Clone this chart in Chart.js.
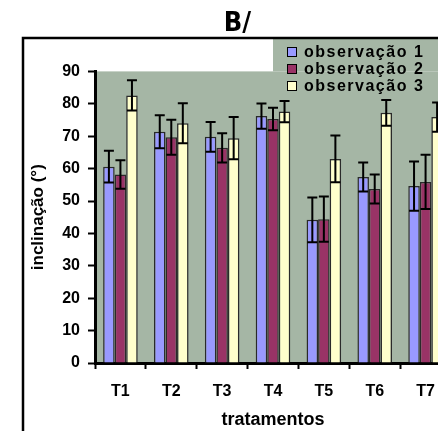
<!DOCTYPE html>
<html>
<head>
<meta charset="utf-8">
<script src="https://cdn.jsdelivr.net/npm/chart.js@4"></script>
<style>
  html, body { margin: 0; padding: 0; background: #fff; overflow: hidden; }
  #wrap { width: 460px; height: 431px; }
</style>
</head>
<body>
<div id="wrap"><canvas id="grafB" width="460" height="431"></canvas></div>
<script>
// tratamentos e medias de inclinacao (graus) por observacao
var tratamentos = ['T1', 'T2', 'T3', 'T4', 'T5', 'T6', 'T7'];
var obs1 = [60.6, 71.4, 69.8, 76.2, 44.2, 57.4, 54.6];
var obs2 = [58.2, 69.7, 66.4, 75.3, 44.4, 53.7, 55.9];
var obs3 = [82.6, 74.0, 69.4, 77.6, 63.0, 77.2, 75.9];
// desvios (barras de erro)
var err1 = [4.9, 5.1, 4.6, 3.9, 6.9, 4.5, 7.6];
var err2 = [4.4, 5.4, 4.5, 3.5, 7.0, 4.5, 8.4];
var err3 = [4.7, 6.2, 6.5, 3.3, 7.2, 4.0, 4.5];
var yTicks = [0, 10, 20, 30, 40, 50, 60, 70, 80, 90];

var fundo = '#a5b6a5';
var fonte = '"Liberation Sans", Arial, sans-serif';

// fundo, moldura e legenda desenhados a mao
var moldura = {
  id: 'moldura',
  beforeDraw: function (chart) {
    var ctx = chart.ctx, a = chart.chartArea;
    ctx.save();
    ctx.fillStyle = '#fff';
    ctx.fillRect(0, 0, chart.width, chart.height);
    ctx.fillStyle = fundo;
    ctx.fillRect(a.left, a.top, chart.width - a.left, a.bottom - a.top);
    ctx.fillRect(273, 39, chart.width - 273, a.top - 39);
    ctx.strokeStyle = '#000';
    ctx.lineWidth = 2.5;
    ctx.beginPath();
    ctx.moveTo(23, chart.height);
    ctx.lineTo(23, 38);
    ctx.lineTo(chart.width, 38);
    ctx.stroke();
    ctx.restore();
  },
  afterDraw: function (chart) {
    var ctx = chart.ctx;
    ctx.save();
    ctx.font = 'bold 16px ' + fonte;
    ctx.letterSpacing = '1.5px';
    ctx.textBaseline = 'alphabetic';
    chart.data.datasets.forEach(function (ds, i) {
      var base = 57 + i * 17;
      ctx.fillStyle = ds.backgroundColor;
      ctx.fillRect(287, base - 10, 10, 10);
      ctx.strokeStyle = '#000';
      ctx.lineWidth = 1;
      ctx.strokeRect(287.5, base - 9.5, 9, 9);
      ctx.fillStyle = '#000';
      ctx.fillText(ds.label, 304, base);
    });
    ctx.restore();
  }
};

var barrasErro = {
  id: 'barrasErro',
  afterDatasetsDraw: function (chart) {
    var ctx = chart.ctx, y = chart.scales.y;
    var erros = [err1, err2, err3];
    ctx.save();
    ctx.strokeStyle = '#000';
    ctx.lineWidth = 2;
    chart.data.datasets.forEach(function (ds, i) {
      var meta = chart.getDatasetMeta(i);
      meta.data.forEach(function (bar, j) {
        var v = ds.data[j], e = erros[i][j];
        var yt = y.getPixelForValue(v + e), yb = y.getPixelForValue(v - e);
        ctx.beginPath();
        ctx.moveTo(bar.x, yt); ctx.lineTo(bar.x, yb);
        ctx.moveTo(bar.x - 5, yt); ctx.lineTo(bar.x + 5, yt);
        ctx.moveTo(bar.x - 5, yb); ctx.lineTo(bar.x + 5, yb);
        ctx.stroke();
      });
    });
    ctx.restore();
  }
};

new Chart(document.getElementById('grafB'), {
  type: 'bar',
  data: {
    labels: tratamentos,
    datasets: [
      { label: 'observação 1', data: obs1, backgroundColor: '#9999ff' },
      { label: 'observação 2', data: obs2, backgroundColor: '#993366' },
      { label: 'observação 3', data: obs3, backgroundColor: '#ffffcc' }
    ]
  },
  options: {
    responsive: false,
    animation: false,
    devicePixelRatio: 1,
    layout: { padding: { left: 24, right: 9, top: 0, bottom: 0 } },
    datasets: {
      bar: {
        borderColor: '#2a2a2a',
        borderWidth: 1.5,
        categoryPercentage: 0.68,
        barPercentage: 1
      }
    },
    plugins: {
      legend: { display: false },
      tooltip: { enabled: false },
      title: {
        display: true,
        text: 'B/',
        color: '#000',
        font: { family: '"Liberation Sans Narrow", "DejaVu Sans Condensed", sans-serif', size: 27, weight: 'bold' },
        padding: { top: 8, bottom: 31 }
      }
    },
    scales: {
      x: {
        afterFit: function (s) { s.height = 68; },
        grid: { offset: true, drawOnChartArea: false, color: '#000', tickLength: 6, tickWidth: 2 },
        border: { color: '#000', width: 3 },
        ticks: { color: '#000', padding: 13, font: { family: fonte, size: 16, weight: 'bold' } },
        title: {
          display: true,
          text: 'tratamentos',
          color: '#000',
          padding: { top: 6, bottom: 0 },
          font: { family: fonte, size: 18, weight: 'bold' }
        }
      },
      y: {
        min: 0,
        max: 90,
        afterFit: function (s) { s.width = 71; },
        afterBuildTicks: function (s) { s.ticks = yTicks.map(function (v) { return { value: v }; }); },
        grid: { drawOnChartArea: false, color: '#000', tickLength: 7, tickWidth: 2 },
        border: { color: '#000', width: 3 },
        ticks: { color: '#000', padding: 8, font: { family: fonte, size: 16, weight: 'bold' } },
        title: {
          display: true,
          text: 'inclinação (°)',
          color: '#000',
          padding: { top: 4, bottom: 0 },
          font: { family: fonte, size: 17, weight: 'bold' }
        }
      }
    }
  },
  plugins: [moldura, barrasErro]
});
</script>
</body>
</html>
